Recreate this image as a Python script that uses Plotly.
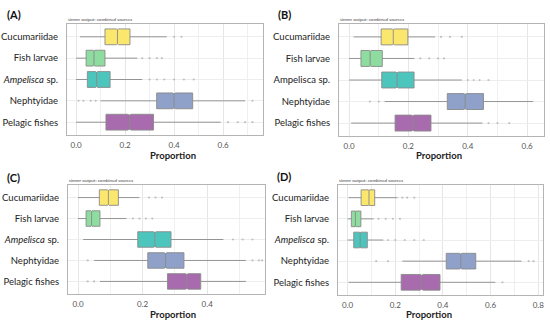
import plotly.graph_objects as go

categories = ["Cucumariidae", "Fish larvae", "Ampelisca sp.", "Nephtyidae", "Pelagic fishes"]
cat_labels_italic = ["Cucumariidae", "Fish larvae", "<i>Ampelisca</i> sp.", "Nephtyidae", "Pelagic fishes"]
cat_labels_plain = ["Cucumariidae", "Fish larvae", "Ampelisca sp.", "Nephtyidae", "Pelagic fishes"]
colors = ["#FBE76E", "#8EDC9F", "#4CC5BC", "#8FA1C9", "#A86BAD"]
panel_names = ["(A)", "(B)", "(C)", "(D)"]

# Panel A
a_q1 = [0.118, 0.041, 0.046, 0.329, 0.122]
a_med = [0.169, 0.073, 0.084, 0.400, 0.218]
a_q3 = [0.220, 0.118, 0.139, 0.476, 0.316]
a_lo = [0.016, 0.0, 0.0, 0.10, 0.0]
a_hi = [0.37, 0.25, 0.27, 0.69, 0.59]
a_out = [[0.40, 0.43], [0.27, 0.30, 0.33, 0.35], [0.30, 0.33, 0.36, 0.40, 0.44, 0.48],
         [0.01, 0.03, 0.06, 0.08, 0.72], [0.62, 0.66, 0.69, 0.72]]

# Panel B
b_q1 = [0.108, 0.040, 0.110, 0.331, 0.155]
b_med = [0.149, 0.071, 0.162, 0.391, 0.215]
b_q3 = [0.198, 0.112, 0.219, 0.453, 0.276]
b_lo = [0.015, 0.0, 0.0, 0.12, 0.007]
b_hi = [0.29, 0.22, 0.38, 0.62, 0.45]
b_out = [[0.31, 0.34, 0.38], [0.24, 0.27, 0.30, 0.32], [0.40, 0.42, 0.44, 0.47],
         [0.07, 0.10], [0.47, 0.50, 0.54]]

# Panel C
c_q1 = [0.066, 0.025, 0.185, 0.216, 0.277]
c_med = [0.094, 0.042, 0.238, 0.271, 0.337]
c_q3 = [0.125, 0.068, 0.288, 0.328, 0.380]
c_lo = [0.0, 0.0, 0.016, 0.05, 0.068]
c_hi = [0.19, 0.15, 0.45, 0.52, 0.52]
c_out = [[0.22, 0.24, 0.26], [0.17, 0.19, 0.21, 0.23], [0.48, 0.51, 0.54],
         [0.03, 0.54, 0.56, 0.57], [0.03, 0.05]]

# Panel D
d_q1 = [0.057, 0.016, 0.026, 0.414, 0.225]
d_med = [0.090, 0.033, 0.053, 0.475, 0.311]
d_q3 = [0.114, 0.056, 0.083, 0.538, 0.388]
d_lo = [0.004, 0.0, 0.0, 0.23, 0.004]
d_hi = [0.21, 0.11, 0.15, 0.73, 0.62]
d_out = [[0.23, 0.25, 0.28], [0.13, 0.16, 0.19, 0.22], [0.17, 0.20, 0.24, 0.28, 0.32],
         [0.12, 0.17, 0.76, 0.78], [0.65]]

x_ranges = [[-0.037, 0.763], [-0.034, 0.657], [-0.031, 0.579], [-0.04, 0.82]]

W, H = 550, 324
# frames in pixels: (left, right, top, bottom)
frames = [(67, 263, 24, 135), (339, 544, 24, 136), (68, 265, 185, 294), (338, 543, 185, 295)]
panel_label_pos = [(6, 15), (277, 15), (6, 177), (276, 176)]
xtitle_pos = [(173, 156), (439, 155), (173, 314), (429, 314)]

panels = [
    (a_q1, a_med, a_q3, a_lo, a_hi, a_out, cat_labels_italic),
    (b_q1, b_med, b_q3, b_lo, b_hi, b_out, cat_labels_plain),
    (c_q1, c_med, c_q3, c_lo, c_hi, c_out, cat_labels_italic),
    (d_q1, d_med, d_q3, d_lo, d_hi, d_out, cat_labels_italic),
]

fig = go.Figure()
layout = {}
annotations = []
FONT = "Lato, Open Sans, sans-serif"

for p, (q1, med, q3, lo, hi, outs, labels) in enumerate(panels):
    ax = "" if p == 0 else str(p + 1)
    xref, yref = "x" + ax, "y" + ax
    for i, cat in enumerate(categories):
        fig.add_trace(go.Scatter(
            x=outs[i], y=[cat] * len(outs[i]), mode="markers",
            marker=dict(size=2.2, color="rgba(120,120,120,0.4)"),
            xaxis=xref, yaxis=yref, showlegend=False, hoverinfo="skip"))
        fig.add_trace(go.Box(
            y=[cat], q1=[q1[i]], median=[med[i]], q3=[q3[i]],
            lowerfence=[lo[i]], upperfence=[hi[i]],
            notched=True, notchspan=[(q3[i] - q1[i]) * 0.04], notchwidth=0.05,
            orientation="h", width=0.74, whiskerwidth=0,
            fillcolor=colors[i], line=dict(color="#8a8a8a", width=0.9),
            boxpoints=False, xaxis=xref, yaxis=yref, showlegend=False))
    l, r, t, b = frames[p]
    layout["xaxis" + ax] = dict(
        domain=[l / W, r / W], anchor=yref, range=x_ranges[p], automargin=False,
        dtick=0.2, tick0=0, tickformat=".1f", showgrid=True, gridcolor="#E6E6E6", gridwidth=0.8,
        minor=dict(dtick=0.1, tick0=0, showgrid=True, gridcolor="#F0F0F0", gridwidth=0.6),
        showline=True, mirror=True, linecolor="#B4B4B4", linewidth=1,
        zeroline=False, ticks="", ticklabelstandoff=2,
        tickfont=dict(size=8, color="#555555", family=FONT))
    layout["yaxis" + ax] = dict(
        domain=[1 - b / H, 1 - t / H], anchor=xref, type="category", automargin=False,
        categoryorder="array", categoryarray=categories,
        range=[len(categories) - 0.4, -0.6],
        tickmode="array", tickvals=categories, ticktext=labels,
        showgrid=True, gridcolor="#EDEDED", gridwidth=0.8,
        showline=True, mirror=True, linecolor="#B4B4B4", linewidth=1,
        zeroline=False, ticks="", ticklabelstandoff=6,
        tickfont=dict(size=9.5, color="#222222", family=FONT))
    annotations.append(dict(
        text="simmr output: combined sources", x=l / W, y=1 - (t - 1) / H,
        xref="paper", yref="paper", xanchor="left", yanchor="bottom", showarrow=False,
        borderpad=0, font=dict(size=4.5, color="#444444", family=FONT)))
    px_, py_ = panel_label_pos[p]
    annotations.append(dict(
        text="<b>" + panel_names[p] + "</b>", x=px_ / W, y=1 - py_ / H,
        xref="paper", yref="paper", xanchor="left", yanchor="middle", showarrow=False,
        borderpad=0, font=dict(size=11, color="#111111", family=FONT)))
    tx, ty = xtitle_pos[p]
    annotations.append(dict(
        text="<b>Proportion</b>", x=tx / W, y=1 - ty / H,
        xref="paper", yref="paper", xanchor="center", yanchor="middle", showarrow=False,
        borderpad=0, font=dict(size=9.5, color="#222222", family=FONT)))

fig.update_layout(
    width=W, height=H, margin=dict(l=0, r=0, t=0, b=0),
    paper_bgcolor="white", plot_bgcolor="white",
    annotations=annotations, showlegend=False, **layout)

fig.write_html("out.html", config={"displayModeBar": False},
               post_script="document.body.style.margin='0';document.body.style.padding='0';")
